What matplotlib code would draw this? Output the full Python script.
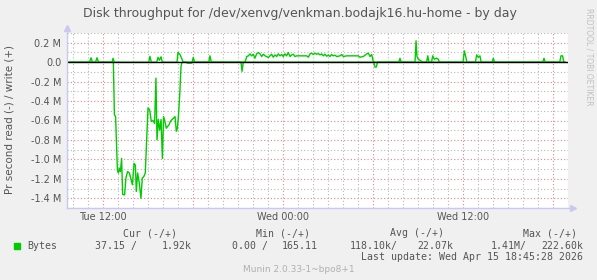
import numpy as np
import matplotlib
matplotlib.use('Agg')
import matplotlib.pyplot as plt
from matplotlib.ticker import FixedLocator, FixedFormatter

# hours since Tue 00:00, values in M bytes/s
write_hours = [9.6, 11.1, 11.2, 11.3, 11.5, 11.6, 11.7, 12.6, 12.67, 12.75,
               15.05, 15.13, 15.22, 15.58, 15.67, 15.76, 15.87, 15.95,
               16.93, 17.0, 17.13, 17.27, 17.35, 17.94, 18.02, 18.1,
               19.05, 19.13, 19.22, 21.47,
               21.58, 21.69, 21.8, 21.91, 22.02, 22.13, 22.24, 22.35, 22.47, 22.58,
               22.69, 22.8, 22.91, 23.02, 23.13, 23.24, 23.35, 23.47, 23.58, 23.69,
               23.8, 23.91, 24.02, 24.13, 24.24, 24.35, 24.47, 24.58, 24.69, 24.8,
               24.91, 25.13, 25.58, 25.69, 25.8, 25.91, 26.02, 26.13, 26.24, 26.35,
               26.47, 26.58, 26.69, 26.8, 26.91, 27.02, 27.13, 27.24, 27.35, 27.47,
               27.58, 27.8, 27.91, 28.02, 28.24, 29.02, 29.13, 29.35, 29.58, 29.69,
               29.8, 29.91, 30.02, 30.13,
               31.72, 31.8, 31.88, 32.8, 32.87, 32.93, 33.02, 33.2, 33.3,
               33.57, 33.65, 33.73, 33.9, 33.98, 34.09, 34.24, 34.35, 34.43,
               36.0, 36.09, 36.18, 36.26, 36.83, 36.91, 37.02, 37.13, 37.21,
               37.94, 38.02, 38.1, 41.32, 41.4, 41.48, 42.45, 42.53, 42.64, 42.72, 42.8]
write_vals = [0, 0, 0.045, 0, 0, 0.045, 0, 0, 0.04, 0,
              0, 0.06, 0, 0, 0.05, 0.02, 0.055, 0,
              0, 0.1, 0.08, 0.03, 0, 0, 0.05, 0,
              0, 0.065, 0, 0,
              0.058, 0.065, 0.085, 0.065, 0.082, 0.041, 0.085, 0.099, 0.085, 0.058,
              0.082, 0.065, 0.058, 0.047, 0.065, 0.082, 0.051, 0.075, 0.058, 0.085,
              0.065, 0.079, 0.058, 0.085, 0.065, 0.099, 0.058, 0.075, 0.082, 0.058,
              0.065, 0.065, 0.065, 0.051, 0.085, 0.092, 0.079, 0.092, 0.082, 0.088,
              0.075, 0.085, 0.065, 0.082, 0.061, 0.072, 0.058, 0.079, 0.065, 0.072,
              0.058, 0.065, 0.079, 0.058, 0.065, 0.065, 0.051, 0.058, 0.085, 0.092,
              0.058, 0.079, 0.007, 0,
              0, 0.04, 0, 0, 0.22, 0.06, 0.03, 0.013, 0,
              0, 0.065, 0, 0, 0.065, 0.03, 0.041, 0.03, 0,
              0, 0.116, 0.058, 0, 0, 0.075, 0.05, 0.065, 0,
              0, 0.04, 0, 0, 0.04, 0, 0, 0.065, 0.065, 0, 0]

read_hours = [9.6, 12.69, 12.76, 12.84, 12.96, 13.02, 13.09, 13.16, 13.24, 13.31,
              13.44, 13.53, 13.64, 13.76, 13.84, 13.96, 14.07, 14.16, 14.22, 14.31,
              14.42, 14.53, 14.62, 14.71, 14.82, 14.91, 15.0, 15.11, 15.22, 15.33,
              15.44, 15.53, 15.6, 15.69, 15.78, 15.87, 15.96, 16.04, 16.13, 16.22,
              16.31, 16.4, 16.49, 16.6, 16.71, 16.8, 16.89, 16.96, 17.02, 17.11,
              17.2, 17.27, 17.55, 17.62, 17.9, 17.97, 21.2, 21.27, 21.35,
              30.05, 30.13, 30.22, 30.3, 42.8]
read_vals = [0, 0, 0.54, 0.56, 1.11, 1.14, 1.09, 1.125, 0.99, 1.36,
             1.365, 1.19, 1.125, 1.14, 1.19, 1.26, 1.04, 1.06, 1.33, 1.14,
             1.245, 1.40, 1.19, 1.18, 1.14, 0.80, 0.47, 0.49, 0.61, 0.60,
             0.63, 0.165, 0.80, 0.59, 0.70, 0.59, 0.99, 0.56, 0.61, 0.68,
             0.66, 0.645, 0.61, 0.59, 0.575, 0.56, 0.71, 0.68, 0.575, 0.35,
             0.045, 0, 0, 0.01, 0.01, 0, 0, 0.095, 0,
             0, 0.05, 0.05, 0, 0]

ytick_vals = [0.2, 0.0, -0.2, -0.4, -0.6, -0.8, -1.0, -1.2, -1.4]
ytick_labels = ['0.2 M', '0.0', '-0.2 M', '-0.4 M', '-0.6 M', '-0.8 M', '-1.0 M', '-1.2 M', '-1.4 M']
xtick_vals = [12, 24, 36]
xtick_labels = ['Tue 12:00', 'Wed 00:00', 'Wed 12:00']

W, H = 597, 280
bg = '#f0f0f0'
txt = '#555555'
fig = plt.figure(figsize=(W / 100, H / 100), dpi=100, facecolor=bg)
ax = fig.add_axes([67 / W, 1 - 208 / H, 501 / W, 175 / H])
ax.set_facecolor('white')
ax.set_xlim(9.6, 43.0)
ax.set_ylim(-1.5, 0.3)

# grid
dot = (0, (1, 2))
for h in np.arange(10, 44):
    if h % 6 != 0:
        ax.axvline(h, color='#b8b8b8', lw=0.8, ls=dot, zorder=1)
for v in np.arange(-15, 4):
    if v % 2 != 0:
        ax.axhline(v / 10, color='#b8b8b8', lw=0.8, ls=dot, zorder=1)
for h in [12, 18, 24, 30, 36, 42]:
    ax.axvline(h, color='#ec8080', lw=0.8, ls=dot, zorder=1)
for v in ytick_vals:
    ax.axhline(v, color='#ec8080', lw=0.8, ls=dot, zorder=1)

# data
ax.plot(write_hours, write_vals, color='#00cc00', lw=1.0, zorder=3)
ax.plot(read_hours, -np.array(read_vals), color='#00cc00', lw=1.0, zorder=3)
ax.axhline(0, color='black', lw=1.0, zorder=4)

for s in ax.spines.values():
    s.set_visible(False)
axc = '#c8c8f0'
ax.plot([0, 1.01], [0, 0], transform=ax.transAxes, color=axc, lw=1, clip_on=False, zorder=5)
ax.plot([0, 0], [0, 1.03], transform=ax.transAxes, color=axc, lw=1, clip_on=False, zorder=5)
ax.plot([1.01], [0], transform=ax.transAxes, marker='>', ms=4, color=axc, clip_on=False, zorder=5)
ax.plot([0], [1.03], transform=ax.transAxes, marker='^', ms=4, color=axc, clip_on=False, zorder=5)

ax.yaxis.set_major_locator(FixedLocator(ytick_vals))
ax.yaxis.set_major_formatter(FixedFormatter(ytick_labels))
ax.xaxis.set_major_locator(FixedLocator(xtick_vals))
ax.xaxis.set_major_formatter(FixedFormatter(xtick_labels))
ax.tick_params(length=0, labelsize=7, colors=txt, pad=4)
ax.tick_params(axis='x', pad=3)

fig.text(300 / W, 1 - 13 / H, 'Disk throughput for /dev/xenvg/venkman.bodajk16.hu-home - by day',
         ha='center', va='center', fontsize=9, color=txt)
fig.text(10 / W, 1 - 120 / H, 'Pr second read (-) / write (+)', rotation=90,
         ha='center', va='center', fontsize=7.5, color=txt)
fig.text(589 / W, 1 - 57 / H, 'RRDTOOL / TOBI OETIKER', rotation=270,
         ha='center', va='center', fontsize=5.5, color='#c0c0c0')

mono = dict(family='DejaVu Sans Mono', fontsize=7.1, color=txt, va='center')
r1 = 1 - 233.5 / H
r2 = 1 - 245.7 / H
r3 = 1 - 257.3 / H
for label, xr in [('Cur (-/+)', 177), ('Min (-/+)', 310), ('Avg (-/+)', 444), ('Max (-/+)', 577)]:
    fig.text(xr / W, r1, label, ha='right', **mono)
fig.patches.append(plt.Rectangle((14 / W, 1 - 248.5 / H), 6 / W, 6 / H,
                                 transform=fig.transFigure, color='#00cc00'))
fig.text(27 / W, r2, 'Bytes', ha='left', **mono)
for s, x in [('37.15 /', 95), ('0.00 /', 232), ('118.10k/', 350), ('1.41M/', 491)]:
    fig.text(x / W, r2, s, ha='left', **mono)
for s, x in [('1.92k', 192), ('165.11', 318), ('22.07k', 453), ('222.60k', 583)]:
    fig.text(x / W, r2, s, ha='right', **mono)
fig.text(583 / W, r3, 'Last update: Wed Apr 15 18:45:28 2026', ha='right', **mono)
fig.text(298.5 / W, 1 - 269.3 / H, 'Munin 2.0.33-1~bpo8+1', ha='center', va='center',
         fontsize=6.5, color='#b0b0b0')

fig.savefig('out.png', dpi=100, facecolor=bg)
